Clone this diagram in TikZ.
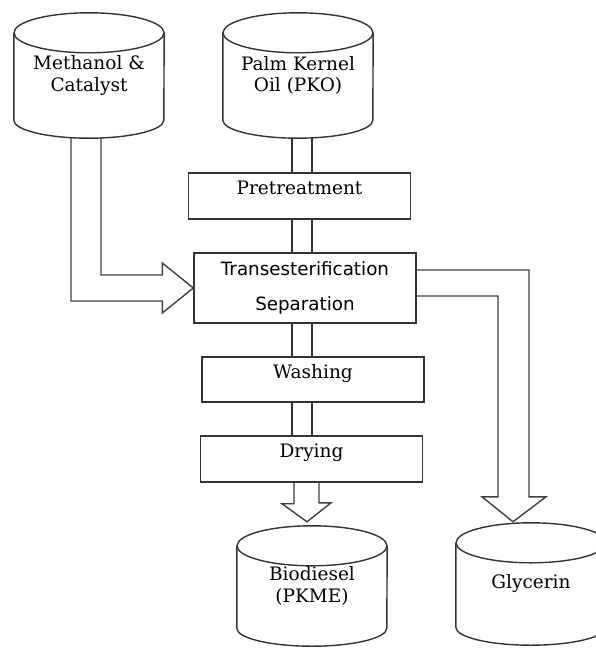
\documentclass[tikz,border=0pt]{standalone}
\usepackage{fontspec}
\setmainfont{DejaVu Serif}
\newfontfamily\sansfam{DejaVu Sans}
\usetikzlibrary{calc}

% outline of a storage tank round a tank node
\newcommand{\tankoutline}[1]{%
  \draw[tl] ($(#1.north west)+(0,20)$) -- ($(#1.south west)+(0,-18)$)
    arc[start angle=180, end angle=360, x radius=75pt, y radius=18pt]
    -- ($(#1.north east)+(0,20)$);
  \draw[tl] ($(#1.north)+(0,20)$) ellipse[x radius=75pt, y radius=20pt];
}

\begin{document}
\begin{tikzpicture}[x=1pt, y=-1pt,
    tk/.style={minimum width=150pt, minimum height=125pt, inner sep=0pt,
      align=center, font=\fontsize{18.5}{21.5}\selectfont},
    st/.style={draw=black!80, line width=1.4pt, minimum width=222pt,
      minimum height=46pt, inner sep=0pt, font=\fontsize{18.5}{21}\selectfont},
    one/.style={st, text height=12pt, text depth=15pt},
    tl/.style={draw=black!80, line width=1.4pt},
    pp/.style={draw=black!80, line width=1.4pt},
    fl/.style={draw=black!75, line width=1.4pt, line join=miter},
  ]
  \useasboundingbox (0,0) rectangle (596,648);
  \clip (0,0) rectangle (596,648);

  % tanks
  \node[tk] (meth) at (89,75.5) {Methanol \&\\Catalyst};
  \node[tk] (pko) at (298,75.5) {Palm Kernel\\Oil (PKO)};
  \node[tk, minimum height=120pt] (bio) at (312,586) {Biodiesel\\(PKME)};
  \node[tk, minimum height=122pt] (glyc) at (531,584) {Glycerin};
  \tankoutline{meth}
  \tankoutline{pko}
  \tankoutline{bio}
  \tankoutline{glyc}

  % process steps
  \node[one] (pre) at (299.5,196) {Pretreatment};
  \node[st, minimum height=70pt, align=center,
    font=\sansfam\fontsize{18.3}{21}\selectfont] (trans) at (305,288)
    {Transesterification\\[14pt]Separation};
  \node[one, minimum height=45pt] (wash) at (313,379.5) {Washing};
  \node[one] (dry) at (311.5,459) {Drying};

  % pipes
  \coordinate (col) at (302,0);
  \draw[pp] ([xshift=-10pt]col |- pko.south) -- ([xshift=-10pt]col |- pre.north);
  \draw[pp] ([xshift=10pt]col |- pko.south) -- ([xshift=10pt]col |- pre.north);
  \draw[pp] ([xshift=-10pt]col |- pre.south) -- ([xshift=-10pt]col |- trans.north);
  \draw[pp] ([xshift=10pt]col |- pre.south) -- ([xshift=10pt]col |- trans.north);
  \draw[pp] ([xshift=-10pt]col |- trans.south) -- ([xshift=-10pt]col |- wash.north);
  \draw[pp] ([xshift=10pt]col |- trans.south) -- ([xshift=10pt]col |- wash.north);
  \draw[pp] ([xshift=-10pt]col |- wash.south) -- ([xshift=-10pt]col |- dry.north);
  \draw[pp] ([xshift=10pt]col |- wash.south) -- ([xshift=10pt]col |- dry.north);

  % block arrows
  \draw[fl] ($(meth.south)+(-18,0)$) |- ($(trans.west)+(-31,13)$) -- ++(0,12)
    -- (trans.west) -- ++(-31,-25) -- ++(0,12) -| ($(meth.south)+(12,0)$);
  \coordinate (gtip) at ($(glyc.north)+(-18,-1)$);
  \draw[fl] ($(trans.east)+(0,-18)$) -| ($(gtip)+(16,-25)$) -- ++(17,0)
    -- (gtip) -- ++(-31,-25) -- ++(16,0) |- ($(trans.east)+(0,8)$);
  \coordinate (btip) at ($(bio.north)+(-5,-4)$);
  \draw[fl] ([xshift=-13pt]btip |- dry.south) -- ++(0,21) -- ++(-12,0)
    -- (btip) -- ++(24,-19) -- ++(-12,0) -- ([xshift=12pt]btip |- dry.south);
\end{tikzpicture}
\end{document}
